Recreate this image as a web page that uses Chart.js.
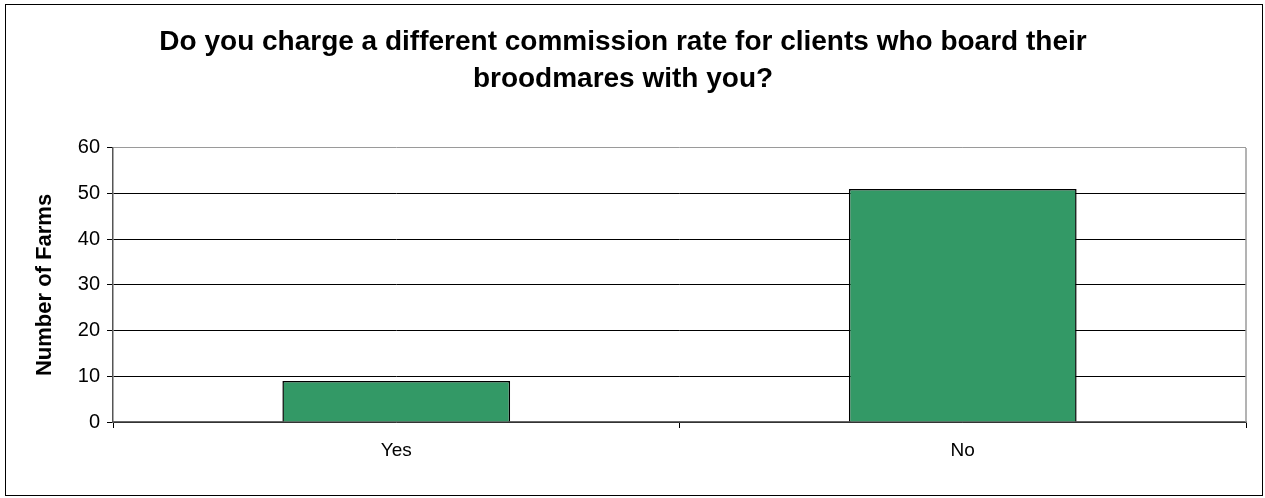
<!DOCTYPE html>
<html>
<head>
<meta charset="utf-8">
<script src="https://cdn.jsdelivr.net/npm/chart.js@4/dist/chart.umd.min.js"></script>
<style>
  html, body { margin: 0; padding: 0; background: #fff; }
  #wrap { width: 1265px; height: 498px; }
</style>
</head>
<body>
<div id="wrap"><canvas id="canvas"></canvas></div>
<script>
// the answers and how many farms gave each one
let categories = ['Yes', 'No'];
let farms = [9, 51];

// y axis ticks run 0..60 in steps of 10
let yMax = 60;
let yStep = 10;

let titleLines = [
  'Do you charge a different commission rate for clients who board their',
  'broodmares with you?'
];

let font = "'Liberation Sans', Arial, sans-serif";

// white background + thin outer frame + grey right edge of the plot
let framePlugin = {
  id: 'frame',
  beforeDraw(chart) {
    let c = chart.ctx;
    c.save();
    c.fillStyle = '#fff';
    c.fillRect(0, 0, chart.width, chart.height);
    c.restore();
  },
  afterDraw(chart) {
    let c = chart.ctx;
    let a = chart.chartArea;
    c.save();
    c.strokeStyle = '#9a9a9a';
    c.lineWidth = 1.5;
    c.beginPath();
    c.moveTo(a.right, a.top);
    c.lineTo(a.right, a.bottom);
    c.stroke();
    c.strokeStyle = '#000';
    c.lineWidth = 1;
    c.strokeRect(5.5, 4.5, 1257, 491);
    c.restore();
  }
};

let options = {
  type: 'bar',
  data: {
    labels: categories,
    datasets: [{
      data: farms,
      backgroundColor: '#339966',
      borderColor: '#000',
      borderWidth: 1.5,
      categoryPercentage: 1,
      barPercentage: 0.402
    }]
  },
  options: {
    responsive: true,
    maintainAspectRatio: false,
    animation: false,
    layout: { padding: { left: 0, right: 19, top: 0, bottom: 36 } },
    plugins: {
      legend: { display: false },
      tooltip: { enabled: false },
      title: {
        display: true,
        text: titleLines,
        color: '#000',
        font: { family: font, size: 28, weight: 'bold', lineHeight: 1.32 },
        padding: { top: 24, bottom: 50 }
      }
    },
    scales: {
      x: {
        afterFit: s => { s.height = 40; },
        grid: {
          offset: true,
          drawOnChartArea: false,
          tickLength: 6,
          color: '#000',
          tickColor: '#000'
        },
        border: { color: '#666', width: 1.5 },
        ticks: {
          color: '#000',
          padding: 11,
          font: { family: font, size: 19 }
        }
      },
      y: {
        min: 0,
        max: yMax,
        afterFit: s => { s.width = 113; },
        grid: {
          color: ctx => ctx.tick && ctx.tick.value === yMax ? '#9a9a9a' : '#000',
          tickColor: '#000',
          tickLength: 6,
          lineWidth: 1
        },
        border: { color: '#555', width: 1.5 },
        ticks: {
          stepSize: yStep,
          color: '#000',
          padding: 7,
          font: { family: font, size: 20 }
        },
        title: {
          display: true,
          text: 'Number of Farms',
          color: '#000',
          font: { family: font, size: 22, weight: 'bold' },
          padding: { top: 32, bottom: 0 }
        }
      }
    }
  },
  plugins: [framePlugin]
};

let chart = new Chart(document.getElementById('canvas'), options);
</script>
</body>
</html>
